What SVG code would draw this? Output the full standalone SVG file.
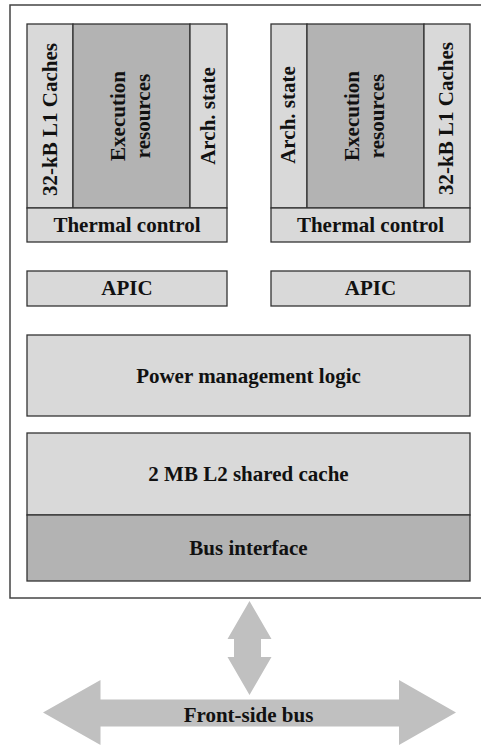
<svg xmlns="http://www.w3.org/2000/svg" width="481" height="745" viewBox="0 0 481 745">
<style>
.lt{fill:#d9d9d9;stroke:#333;stroke-width:1.3}
.dk{fill:#b3b3b3;stroke:#333;stroke-width:1.3}
.t{font-family:"Liberation Serif","Times New Roman",serif;font-weight:bold;font-size:21px;fill:#111;text-anchor:middle}
.arr{fill:#c0c0c0;stroke:none}
</style>
<rect width="481" height="745" fill="#fff"/>
<g id="chip"><rect x="10" y="5" width="480" height="593" fill="#fff" stroke="#444" stroke-width="1.5"/></g>

<g id="core1">
<rect class="lt" x="27" y="24" width="46" height="184"/>
<rect class="dk" x="73" y="24" width="117" height="184"/>
<rect class="lt" x="190" y="24" width="37" height="184"/>
<rect class="lt" x="27" y="208" width="200" height="34"/>
<text class="t" transform="translate(57,119.5) rotate(-90)">32-kB L1 Caches</text>
<text class="t" transform="translate(124.5,116) rotate(-90)">Execution</text>
<text class="t" transform="translate(149.5,116) rotate(-90)">resources</text>
<text class="t" transform="translate(215,116) rotate(-90)">Arch. state</text>
<text class="t" x="127" y="232">Thermal control</text>
</g>

<g id="core2">
<rect class="lt" x="271" y="24" width="36" height="184"/>
<rect class="dk" x="307" y="24" width="117" height="184"/>
<rect class="lt" x="424" y="24" width="46" height="184"/>
<rect class="lt" x="271" y="208" width="199" height="34"/>
<text class="t" transform="translate(295,115) rotate(-90)">Arch. state</text>
<text class="t" transform="translate(358.5,116) rotate(-90)">Execution</text>
<text class="t" transform="translate(383.5,116) rotate(-90)">resources</text>
<text class="t" transform="translate(453,118.5) rotate(-90)">32-kB L1 Caches</text>
<text class="t" x="370.5" y="232">Thermal control</text>
</g>

<g id="apic1"><rect class="lt" x="27" y="271" width="200" height="35"/><text class="t" x="127" y="295">APIC</text></g>
<g id="apic2"><rect class="lt" x="271" y="271" width="199" height="35"/><text class="t" x="370.5" y="295">APIC</text></g>

<g id="power"><rect class="lt" x="27" y="335" width="443" height="81"/><text class="t" x="248.5" y="382.5">Power management logic</text></g>
<g id="l2"><rect class="lt" x="27" y="433" width="443" height="82"/><text class="t" x="248.5" y="481">2 MB L2 shared cache</text></g>
<g id="bus"><rect class="dk" x="27" y="515" width="443" height="66"/><text class="t" x="248.5" y="555">Bus interface</text></g>

<g id="connectors">
<polygon class="arr" points="249.5,601 271.5,639 261,639 261,657 271.5,657 249.5,695 227.5,657 234,657 234,639 227.5,639"/>
<g id="fsb">
<polygon class="arr" points="43,712.5 100.5,680 100.5,699.5 399,699.5 399,680 456,712.5 399,745 399,726.5 100.5,726.5 100.5,745"/>
<text class="t" x="248.5" y="722">Front-side bus</text>
</g>
</g>
</svg>
